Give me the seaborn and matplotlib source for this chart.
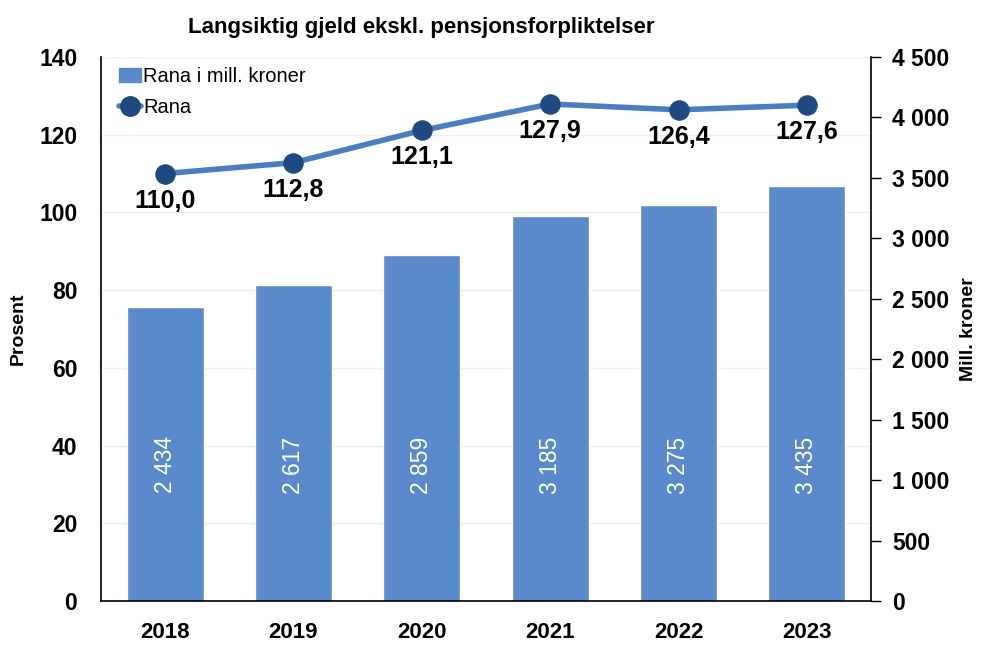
import numpy as np
import matplotlib
matplotlib.use("Agg")
import matplotlib.pyplot as plt
import matplotlib.transforms as mtransforms
from matplotlib.lines import Line2D
from matplotlib.patches import Patch
import seaborn as sns

years = ["2018", "2019", "2020", "2021", "2022", "2023"]
mill_kroner = [2434, 2617, 2859, 3185, 3275, 3435]
prosent = [110.0, 112.8, 121.1, 127.9, 126.4, 127.6]
left_ticks = [0, 20, 40, 60, 80, 100, 120, 140]
right_ticks = [0, 500, 1000, 1500, 2000, 2500, 3000, 3500, 4000, 4500]

title = "Langsiktig gjeld ekskl. pensjonsforpliktelser"
bar_label = "Rana i mill. kroner"
line_label = "Rana"

sns.set_theme(style="white")
plt.rcParams["font.family"] = ["Liberation Sans", "DejaVu Sans"]
for k in ("text.color", "axes.labelcolor", "xtick.color", "ytick.color"):
    plt.rcParams[k] = "black"

bar_color = "#5A8ACB"
line_color = "#4A7EC2"
marker_color = "#1F4A80"

fig = plt.figure(figsize=(9.86, 6.46), dpi=100)
ax = fig.add_axes([0.1024, 0.0697, 0.7810, 0.8421])  # bars, right scale
ax2 = ax.twinx()  # line, left scale

lmax, rmax = left_ticks[-1], right_ticks[-1]

# gridlines at left ticks, behind bars
for v in left_ticks[1:]:
    ax.axhline(v * rmax / lmax, color="#EFEFEB", lw=1, zorder=0)

sns.barplot(x=years, y=mill_kroner, ax=ax, color=bar_color, saturation=1,
            width=0.6, zorder=2)
ax.set_ylim(0, rmax)
ax.set_xlim(-0.5, len(years) - 0.5)
ax.yaxis.tick_right()
ax.yaxis.set_label_position("right")
ax.set_yticks(right_ticks)
ax.set_yticklabels([f"{t:,}".replace(",", " ") for t in right_ticks],
                   fontsize=16.5, fontweight="bold")
ax.tick_params(axis="y", which="both", right=True, length=7, width=1,
               color="black", direction="out", pad=8)
ax.set_ylabel("Mill. kroner", fontsize=14, fontweight="bold", labelpad=8)
ax.set_xlabel("")
ax.set_xticks(range(len(years)))
ax.set_xticklabels(years, fontsize=16, fontweight="bold")
ax.tick_params(axis="x", bottom=False, pad=9)

trans = mtransforms.blended_transform_factory(ax.transData, ax.transAxes)
for i, v in enumerate(mill_kroner):
    ax.text(i, 0.25, f"{v:,}".replace(",", " "), transform=trans,
            rotation=90, ha="center", va="center", color="white",
            fontsize=16.5, zorder=3)

sns.lineplot(x=np.arange(len(years)), y=prosent, ax=ax2, color=line_color,
             lw=4, marker="o", markersize=14, markerfacecolor=marker_color,
             markeredgecolor=marker_color, zorder=4)
ax2.set_ylim(0, lmax)
ax2.yaxis.tick_left()
ax2.yaxis.set_label_position("left")
ax2.set_yticks(left_ticks)
ax2.set_yticklabels([str(t) for t in left_ticks], fontsize=16.5,
                    fontweight="bold")
ax2.tick_params(axis="y", left=False, right=False, pad=11)
ax2.set_ylabel("Prosent", fontsize=14, fontweight="bold", labelpad=9)

for i, v in enumerate(prosent):
    ax2.annotate(f"{v:.1f}".replace(".", ","), (i, v), xytext=(0, -27),
                 textcoords="offset pixels", ha="center", va="center",
                 fontsize=18, fontweight="bold", color="black", zorder=5)

for a in (ax, ax2):
    for s in a.spines.values():
        s.set_visible(False)
for s in ("left", "right", "bottom"):
    ax2.spines[s].set_visible(True)
    ax2.spines[s].set_color("black")
    ax2.spines[s].set_linewidth(1.2)

handles = [Patch(facecolor=bar_color, edgecolor=bar_color, label=bar_label),
           Line2D([0], [0], color=line_color, lw=4, marker="o", markersize=14,
                  markerfacecolor=marker_color, markeredgecolor=marker_color,
                  label=line_label)]
ax2.legend(handles=handles, loc="upper left", bbox_to_anchor=(0.01, 1.0),
           frameon=False, fontsize=14.5, handlelength=1.1, handletextpad=0.1,
           borderaxespad=0.1, labelspacing=0.6)

fig.text(0.427, 0.958, title, ha="center", va="center", fontsize=16,
         fontweight="bold")

fig.savefig("out.png", dpi=100)
